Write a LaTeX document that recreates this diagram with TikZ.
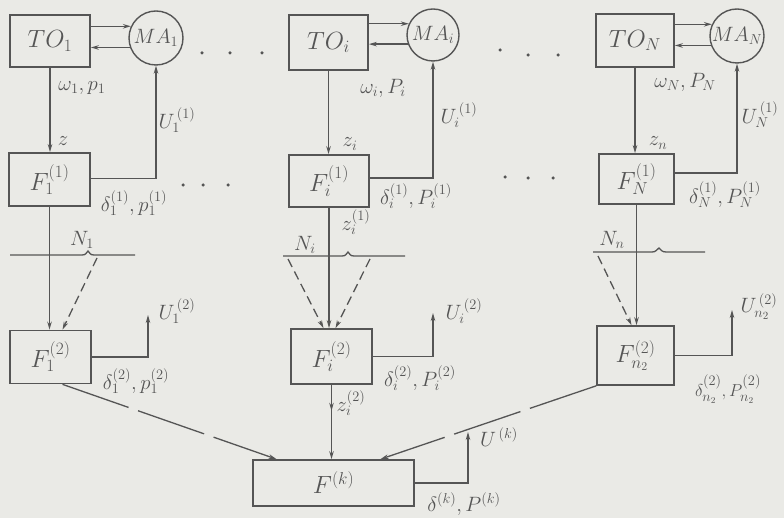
\documentclass[tikz,border=0pt]{standalone}
\usetikzlibrary{arrows.meta,decorations.markings,calc}
\definecolor{ink}{RGB}{85,85,85}
\definecolor{paper}{RGB}{234,234,230}
\newcommand{\hisup}[1]{\raisebox{5pt}{$\scriptstyle #1$}}
\begin{document}
\begin{tikzpicture}[x=1pt,y=-1pt,
  box/.style={draw=ink,line width=1.7pt,inner sep=0pt,text=ink,font=\fontsize{24}{26}\selectfont},
  circ/.style={circle,draw=ink,line width=1.4pt,minimum size=54pt,inner sep=0pt,text=ink,font=\fontsize{20}{22}\selectfont},
  lbl/.style={inner sep=0pt,text=ink,font=\fontsize{21}{23}\selectfont},
  ln/.style={draw=ink,line width=1.3pt},
  arr/.style={ln,-{Stealth[length=8pt,width=4.5pt]}},
  dsh/.style={arr,dash pattern=on 9pt off 5pt},
  ldsh/.style={arr,dash pattern=on 70pt off 10pt},
  midarr/.style={postaction={decorate},decoration={markings,mark=at position 0.35 with {\arrow{Stealth[length=8pt,width=4.5pt]}}}},
  dotc/.style={circle,fill=ink,inner sep=0pt,minimum size=3.5pt}
]
\fill[paper] (0,0) rectangle (784,518);
\useasboundingbox (0,0) rectangle (784,518);

% top row
\node[box,minimum width=80pt,minimum height=52pt] (TO1) at (50,41) {$TO_1$};
\node[circ] (MA1) at (156,38) {$MA_1$};
\node[box,minimum width=79pt,minimum height=55pt] (TOi) at (328.5,42.5) {$TO_i$};
\node[circ,minimum size=52pt] (MAi) at (433,35) {$MA_i$};
\node[box,minimum width=78pt,minimum height=53pt] (TON) at (635,40.5) {$TO_N$};
\node[circ] (MAN) at (737,36) {$MA_N$};

% F(1) row
\node[box,minimum width=81pt,minimum height=53pt] (F11) at (49.5,179.5) {$F_1^{(1)}$};
\node[box,minimum width=80pt,minimum height=52pt] (Fi1) at (329,181) {$F_i^{(1)}$};
\node[box,minimum width=75pt,minimum height=50pt] (FN1) at (636.5,179) {$F_N^{(1)}$};

% F(2) row
\node[box,minimum width=81pt,minimum height=53pt] (F12) at (50.5,357) {$F_1^{(2)}$};
\node[box,minimum width=81pt,minimum height=55pt] (Fi2) at (331.5,356.5) {$F_i^{(2)}$};
\node[box,minimum width=77pt,minimum height=59pt] (Fn2) at (635.5,355.5) {$F_{n_2}^{(2)}$};

% bottom
\node[box,minimum width=161pt,minimum height=46pt] (Fk) at (333.5,483) {$F^{(k)}$};

% TO <-> MA
\foreach \t/\m in {TO1/MA1,TOi/MAi,TON/MAN}{
  \draw[arr] (\m.155 -| \t.east) -- (\m.155);
  \draw[arr] (\m.200) -- (\m.200 -| \t.east);
}

% TO -> F(1), F(1) -> MA
\draw[arr] (TO1.south) -- (TO1.south |- F11.north);
\draw[arr] (TOi.south) -- (TOi.south |- Fi1.north);
\draw[arr] (TON.south) -- (TON.south |- FN1.north);
\draw[arr] ([yshift=1pt]F11.east) -| (MA1.south);
\draw[arr] ([yshift=3pt]Fi1.east) -| (MAi.south);
\draw[arr] ([yshift=6pt]FN1.east) -| (MAN.south);

% F(1) -> F(2)
\draw[arr] (F11.south) -- (F11.south |- F12.north);
\draw[arr] (Fi1.south) -- (Fi1.south |- Fi2.north);
\draw[arr] (FN1.south) -- (FN1.south |- Fn2.north);

% N lines with brace bump
\draw[ln] (10,255) -- (82,255) .. controls (86,255) and (86,253) .. (88,251) .. controls (90,253) and (90,255) .. (94,255) -- (135,255);
\draw[ln] (283,256) -- (342,256) .. controls (346,256) and (346,254) .. (348,252) .. controls (350,254) and (350,256) .. (354,256) -- (405,256);
\draw[ln] (593,252) -- (652,252) .. controls (656,252) and (656,250) .. (659,248) .. controls (661,250) and (662,252) .. (666,252) -- (705,252);

% dashed arrows from N lines
\coordinate (d1) at (97,258);
\coordinate (d2) at (288,259);
\coordinate (d3) at (370,259);
\coordinate (d4) at (598,256);
\draw[dsh] (d1) -- ([xshift=12pt]F12.north);
\draw[dsh] (d2) -- ([xshift=-8pt]Fi2.north);
\draw[dsh] (d3) -- ([xshift=4pt]Fi2.north);
\draw[dsh] (d4) -- ([xshift=-4pt]Fn2.north);

% outputs U^(2), U^(k)
\coordinate (u12) at (148,315);
\coordinate (ui2) at (433,313);
\coordinate (un2) at (732,310);
\coordinate (uk) at (468,432);
\draw[arr] (F12.east) -| (u12);
\draw[arr] (Fi2.east) -| (ui2);
\draw[arr] (Fn2.east) -| (un2);
\draw[arr] (Fk.east) -| (uk);

% to F^(k)
\draw[ldsh] ([xshift=12pt]F12.south) -- ([xshift=-57pt]Fk.north);
\draw[ldsh] (Fn2.south west) -- ([xshift=47pt]Fk.north);
\draw[arr,midarr] (Fi2.south) -- (Fi2.south |- Fk.north);

% labels
\node[lbl] (l1) at (82,88) {$\omega_1,p_1$};
\node[lbl] (l2) at (63,141) {$z$};
\node[lbl] (l3) at (177,120) {$U_1^{\,(1)}$};
\node[lbl] (l4) at (383,88) {$\omega_i,P_i$};
\node[lbl] (l5) at (350,144) {$z_i$};
\node[lbl] (l6) at (459,115) {$U_i^{\,(1)}$};
\node[lbl] (l7) at (685,82) {$\omega_N,P_N$};
\node[lbl] (l8) at (760,115) {$U_N^{\,(1)}$};
\node[lbl] (l9) at (658,143) {$z_n$};

\node[lbl] (m1) at (134,203) {$\delta_1^{(1)},p_1^{(1)}$};
\node[lbl] (m2) at (416,196) {$\delta_i^{(1)},P_i^{(1)}$};
\node[lbl] (m3) at (725,195) {$\delta_N^{(1)},P_N^{(1)}$};
\node[lbl] (m4) at (356,222) {$z_i^{(1)}$};

\node[lbl] (n1) at (82,240) {$N_1$};
\node[lbl] (n2) at (305,245) {$N_i$};
\node[lbl] (n3) at (612,240) {$N_n$};

\node[lbl] (o1) at (177,311) {$U_1^{\,(2)}$};
\node[lbl] (o2) at (464,311) {$U_i^{\,(2)}$};
\node[lbl] (o3) at (759,307) {$U_{n_2}^{\,(2)}$};
\node[lbl] (o4) at (136,381) {$\delta_1^{(2)},p_1^{(2)}$};
\node[lbl] (o5) at (420,378) {$\delta_i^{(2)},P_i^{(2)}$};
\node[lbl,font=\fontsize{19}{21}\selectfont] (o6) at (728,389) {$\delta_{n_2}^{\hisup{(2)}},P_{n_2}^{\hisup{(2)}}$};
\node[lbl] (o7) at (351,403) {$z_i^{(2)}$};
\node[lbl] (o8) at (499,437) {$U^{\,(k)}$};
\node[lbl] (o9) at (464,504) {$\delta^{(k)},P^{(k)}$};

% dots
\foreach \x/\y [count=\k] in {202/53,230/53,262/53,500/50,528/55,558/55,183/185,203/185,228/185,505/177,528/178,553/178}
  \node[dotc] (dot\k) at (\x,\y) {};
\end{tikzpicture}
\end{document}
